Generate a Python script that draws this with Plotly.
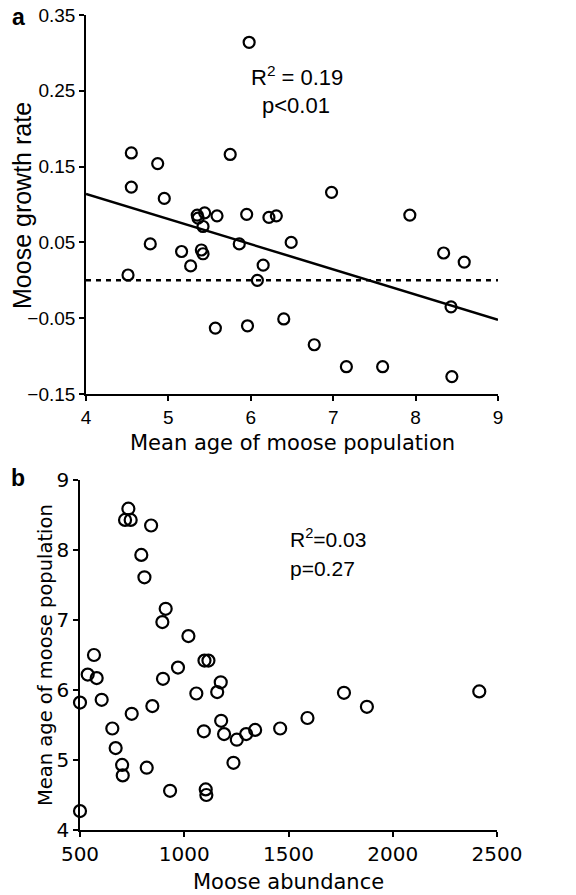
import plotly.graph_objects as go

# Panel a: mean age vs growth rate
age_a = [5.98, 4.55, 4.87, 5.75, 4.55, 6.98, 4.95, 5.35, 5.36, 5.44, 5.42, 5.59, 5.95, 6.22, 6.31,
         7.93, 4.78, 5.16, 5.40, 5.42, 5.27, 5.86, 6.49, 6.15, 4.51, 6.08, 8.34, 8.59, 8.43, 5.57,
         5.96, 6.40, 6.77, 7.16, 7.60, 8.44]
growth_a = [0.314, 0.168, 0.154, 0.166, 0.123, 0.116, 0.108, 0.086, 0.082, 0.089, 0.071, 0.085, 0.087,
            0.083, 0.085, 0.086, 0.048, 0.038, 0.040, 0.035, 0.019, 0.048, 0.050, 0.020, 0.007, 0.000,
            0.036, 0.024, -0.035, -0.063, -0.060, -0.051, -0.085, -0.114, -0.114, -0.127]
fit_x = [4, 9]
fit_y = [0.114, -0.052]
zero_x = [4, 9]
zero_y = [0, 0]
yticks_a = [-0.15, -0.05, 0.05, 0.15, 0.25, 0.35]
yticktext_a = ["\u22120.15", "\u22120.05", "0.05", "0.15", "0.25", "0.35"]
xticks_a = [4, 5, 6, 7, 8, 9]

# Panel b: abundance vs mean age
abund_b = [732, 716, 743, 841, 794, 809, 911, 895, 1020, 567, 537, 580, 500, 604, 655, 671, 702, 705,
           500, 748, 820, 847, 898, 970, 932, 1058, 1097, 1116, 1094, 1103, 1106, 1158, 1175, 1177,
           1191, 1236, 1252, 1297, 1340, 1460, 1591, 1766, 1876, 2415]
age_b = [8.59, 8.43, 8.43, 8.35, 7.93, 7.61, 7.16, 6.97, 6.77, 6.50, 6.22, 6.17, 5.82, 5.86, 5.45,
         5.17, 4.93, 4.78, 4.27, 5.66, 4.89, 5.77, 6.16, 6.32, 4.56, 5.95, 6.42, 6.42, 5.41, 4.58,
         4.50, 5.97, 6.11, 5.56, 5.37, 4.96, 5.29, 5.37, 5.43, 5.45, 5.60, 5.96, 5.76, 5.98]
xticks_b = [500, 1000, 1500, 2000, 2500]
yticks_b = [4, 5, 6, 7, 8, 9]

W, H = 576, 895
def px(x):
    return x / W
def py(y):
    return 1 - y / H

ARIAL = "Liberation Sans, Arial, sans-serif"
VERD = "DejaVu Sans, Verdana, sans-serif"

fig = go.Figure()
fig.add_trace(go.Scatter(x=zero_x, y=zero_y, mode="lines",
                         line=dict(color="black", width=2.5, dash="5px,5px"),
                         xaxis="x", yaxis="y", showlegend=False, hoverinfo="skip"))
fig.add_trace(go.Scatter(x=fit_x, y=fit_y, mode="lines",
                         line=dict(color="black", width=2.5),
                         xaxis="x", yaxis="y", showlegend=False))
fig.add_trace(go.Scatter(x=age_a, y=growth_a, mode="markers",
                         marker=dict(symbol="circle-open", size=11, color="black",
                                     line=dict(width=2.2, color="black")),
                         xaxis="x", yaxis="y", showlegend=False, cliponaxis=False))
fig.add_trace(go.Scatter(x=abund_b, y=age_b, mode="markers",
                         marker=dict(symbol="circle-open", size=12, color="black",
                                     line=dict(width=2.2, color="black")),
                         xaxis="x2", yaxis="y2", showlegend=False, cliponaxis=False))

axis_common = dict(showgrid=False, zeroline=False, showline=True, linecolor="black",
                   linewidth=1.5, ticks="outside", ticklen=5, tickwidth=1.5, tickcolor="black",
                   automargin=False)

fig.update_layout(
    width=W, height=H,
    margin=dict(l=0, r=0, t=0, b=0, autoexpand=False),
    paper_bgcolor="white", plot_bgcolor="white",
    xaxis=dict(domain=[px(86), px(498)], range=[4, 9], anchor="y", tickvals=xticks_a,
               tickfont=dict(family=ARIAL, size=19, color="black"), **axis_common),
    yaxis=dict(domain=[py(394), py(15)], range=[-0.15, 0.35], anchor="x", tickvals=yticks_a,
               ticktext=yticktext_a,
               tickfont=dict(family=ARIAL, size=19, color="black"), **axis_common),
    xaxis2=dict(domain=[px(80), px(497)], range=[500, 2500], anchor="y2", tickvals=xticks_b,
                tickfont=dict(family=VERD, size=20, color="black"), **axis_common),
    yaxis2=dict(domain=[py(830), py(480)], range=[4, 9], anchor="x2", tickvals=yticks_b,
                tickfont=dict(family=VERD, size=20, color="black"), **axis_common),
)

ann = [
    dict(text="<b>a</b>", x=px(18), y=py(17), font=dict(family=ARIAL, size=23)),
    dict(text="<b>b</b>", x=px(18), y=py(478), font=dict(family=ARIAL, size=23)),
    dict(text="R<sup>2</sup> = 0.19", x=px(297), y=py(76), font=dict(family=ARIAL, size=22)),
    dict(text="p<0.01", x=px(296), y=py(105), font=dict(family=ARIAL, size=22)),
    dict(text="R<sup>2</sup>=0.03", x=px(288), y=py(538), xanchor="left", font=dict(family=ARIAL, size=21)),
    dict(text="p=0.27", x=px(288), y=py(568), xanchor="left", font=dict(family=ARIAL, size=21)),
    dict(text="Moose growth rate", x=px(22), y=py(206), textangle=-90, font=dict(family=ARIAL, size=25)),
    dict(text="Mean age of moose population", x=px(292), y=py(443), font=dict(family=VERD, size=21)),
    dict(text="Mean age of moose population", x=px(45), y=py(655), textangle=-90, font=dict(family=VERD, size=19.5)),
    dict(text="Moose abundance", x=px(288), y=py(882), font=dict(family=VERD, size=21)),
]
for a in ann:
    a.setdefault("xanchor", "center")
    a.setdefault("yanchor", "middle")
    a["font"]["color"] = "black"
    fig.add_annotation(xref="paper", yref="paper", showarrow=False, **a)

# remove the browser's default 8px page margin so the figure fills the window
fig.write_html("out.html", config={"displayModeBar": False},
               post_script="document.body.style.margin='0';document.body.style.overflow='hidden';")
